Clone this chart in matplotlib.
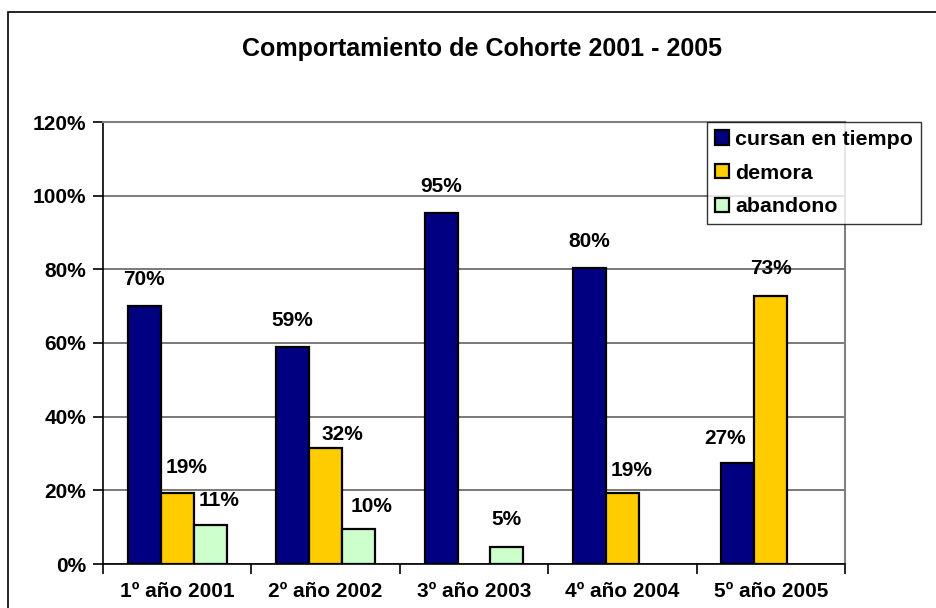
import numpy as np
import matplotlib.pyplot as plt
from matplotlib.patches import Rectangle

plt.rcParams['font.family'] = ['Liberation Sans', 'DejaVu Sans']
plt.rcParams['font.weight'] = 'bold'

# data
categories = ['1º año 2001', '2º año 2002', '3º año 2003', '4º año 2004', '5º año 2005']
series_names = ['cursan en tiempo', 'demora', 'abandono']
cursan = [0.70, 0.59, 0.953, 0.803, 0.273]
demora = [0.192, 0.316, np.nan, 0.193, 0.727]
abandono = [0.106, 0.096, 0.047, np.nan, np.nan]
yticks = [0, 0.2, 0.4, 0.6, 0.8, 1.0, 1.2]

colors = ['#000080', '#FFCC00', '#CCFFCC']

# label nudges (pixels) as placed in the original chart: (dx, gap above bar)
label_dx = [[0, 0, 0, 0, -13], [9, 17, 0, 9, 0], [9, 13, 0, 0, 0]]
label_gap = [[17, 17, 17, 17, 15], [16, 4, 0, 13, 18], [15, 13, 18, 0, 0]]
px = 72 / 100  # pixel -> points

fig = plt.figure(figsize=(9.36, 6.08), dpi=100)
# outer chart border
fig.patches.append(Rectangle((8 / 936, -0.1), 1.2, 1.1 - 12 / 608, transform=fig.transFigure,
                             fill=False, edgecolor='black', lw=1.2))

ax = fig.add_axes([103 / 936, 1 - 564 / 608, (845 - 103) / 936, (564 - 122) / 608])

x = np.arange(len(categories))
w = 0.222
for i, (vals, name) in enumerate(zip([cursan, demora, abandono], series_names)):
    pos = x + (i - 1) * w
    ax.bar(pos, vals, width=w, color=colors[i], edgecolor='black', lw=1.6, label=name, zorder=3)
    for j, (p, v) in enumerate(zip(pos, vals)):
        if not np.isnan(v):
            ax.annotate(f'{v:.0%}', (p, v), xytext=(label_dx[i][j] * px, label_gap[i][j] * px),
                        textcoords='offset points', ha='center', va='bottom',
                        fontsize=15, fontweight='bold', zorder=2)

ax.set_xlim(-0.5, len(categories) - 0.5)
ax.set_ylim(0, 1.2)
ax.set_yticks(yticks)
ax.set_yticklabels([f'{t:.0%}' for t in yticks], fontsize=15, fontweight='bold')
ax.yaxis.grid(True, color='#555555', lw=1.1, zorder=2.5)

# category tick marks at boundaries, labels at centres
ax.set_xticks(np.arange(len(categories) + 1) - 0.5)
ax.set_xticklabels([])
ax.set_xticks(x, minor=True)
ax.set_xticklabels(categories, minor=True, fontsize=15, fontweight='bold')
ax.tick_params(axis='x', which='minor', length=0, pad=13)
ax.tick_params(axis='x', which='major', length=7, width=1.2, direction='out')
ax.tick_params(axis='y', length=7, width=1.2, direction='out', pad=5)

ax.spines['left'].set_linewidth(1.2)
ax.spines['bottom'].set_linewidth(1.2)
ax.spines['top'].set_color('#808080')
ax.spines['right'].set_color('#808080')
ax.spines['top'].set_linewidth(1.5)
ax.spines['right'].set_linewidth(1.5)

fig.text(482 / 936, 1 - 49 / 608, 'Comportamiento de Cohorte 2001 - 2005',
         ha='center', va='center', fontsize=18, fontweight='bold')

leg = ax.legend(loc='upper left', bbox_to_anchor=(707 / 936, 1 - 122 / 608),
                bbox_transform=fig.transFigure, frameon=True, fancybox=False,
                prop={'size': 15.4, 'weight': 'bold'}, handlelength=0.65, handleheight=0.65,
                handletextpad=0.3, borderpad=0.38, labelspacing=0.68, borderaxespad=0)
leg.get_frame().set_edgecolor('black')
leg.get_frame().set_linewidth(1)
leg.set_zorder(5)

fig.savefig('out.png', dpi=100)
